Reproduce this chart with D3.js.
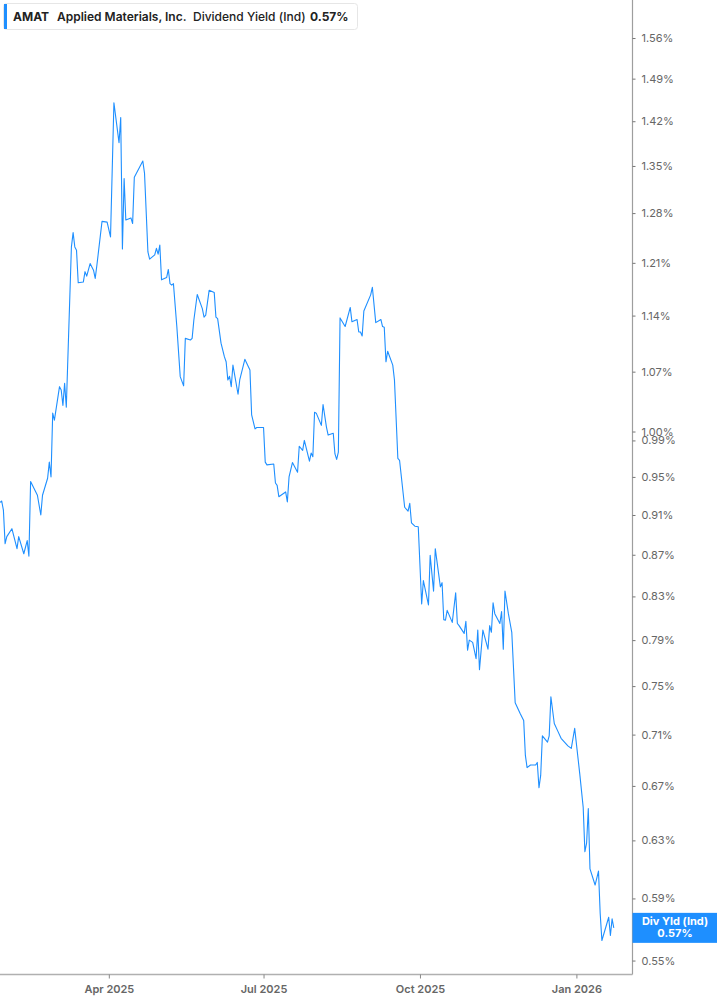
<!DOCTYPE html>
<html>
<head>
<meta charset="utf-8">
<script src="https://cdn.jsdelivr.net/npm/d3@7/dist/d3.min.js"></script>
<style>
  html, body { margin: 0; padding: 0; background: #fff; }
  svg { display: block; }
</style>
</head>
<body>
<svg id="chart" width="717" height="1005"></svg>
<script>
// ---- data ----
const dates = [
  "2025-01-27","2025-01-28","2025-01-29","2025-01-30","2025-01-31","2025-02-03","2025-02-06","2025-02-07",
  "2025-02-10","2025-02-12","2025-02-13","2025-02-14","2025-02-18","2025-02-20","2025-02-21","2025-02-24",
  "2025-02-25","2025-02-26","2025-02-27","2025-02-28","2025-03-03","2025-03-04","2025-03-05","2025-03-06",
  "2025-03-07","2025-03-10","2025-03-11","2025-03-12","2025-03-13","2025-03-14","2025-03-17","2025-03-18",
  "2025-03-19","2025-03-21","2025-03-23","2025-03-24","2025-03-25","2025-03-28","2025-03-31","2025-04-02",
  "2025-04-04","2025-04-07","2025-04-08","2025-04-09","2025-04-10","2025-04-11","2025-04-14","2025-04-15",
  "2025-04-16","2025-04-21","2025-04-22","2025-04-24","2025-04-25","2025-04-28","2025-04-29","2025-04-30",
  "2025-05-01","2025-05-02","2025-05-05","2025-05-06","2025-05-07","2025-05-08","2025-05-09","2025-05-11",
  "2025-05-13","2025-05-15","2025-05-16","2025-05-19","2025-05-20","2025-05-21","2025-05-23","2025-05-26",
  "2025-05-27","2025-05-28","2025-05-30","2025-06-02","2025-06-03","2025-06-04","2025-06-06","2025-06-08",
  "2025-06-09","2025-06-10","2025-06-11","2025-06-12","2025-06-13","2025-06-16","2025-06-17","2025-06-20",
  "2025-06-23","2025-06-24","2025-06-26","2025-06-27","2025-07-01","2025-07-02","2025-07-03","2025-07-07",
  "2025-07-08","2025-07-09","2025-07-10","2025-07-14","2025-07-15","2025-07-16","2025-07-18","2025-07-21",
  "2025-07-22","2025-07-24","2025-07-25","2025-07-28","2025-07-29","2025-07-30","2025-07-31","2025-08-01",
  "2025-08-04","2025-08-05","2025-08-07","2025-08-08","2025-08-11","2025-08-12","2025-08-13","2025-08-14",
  "2025-08-15","2025-08-18","2025-08-21","2025-08-22","2025-08-25","2025-08-26","2025-08-27","2025-08-28",
  "2025-08-29","2025-09-02","2025-09-03","2025-09-05","2025-09-08","2025-09-09","2025-09-10","2025-09-11",
  "2025-09-12","2025-09-15","2025-09-16","2025-09-18","2025-09-19","2025-09-22","2025-09-24","2025-09-25",
  "2025-09-26","2025-09-28","2025-09-30","2025-10-02","2025-10-03","2025-10-06","2025-10-07","2025-10-09",
  "2025-10-10","2025-10-13","2025-10-14","2025-10-15","2025-10-16","2025-10-17","2025-10-20","2025-10-22",
  "2025-10-23","2025-10-24","2025-10-27","2025-10-28","2025-10-29","2025-10-30","2025-11-01","2025-11-03",
  "2025-11-04","2025-11-05","2025-11-07","2025-11-10","2025-11-11","2025-11-12","2025-11-13","2025-11-14",
  "2025-11-17","2025-11-18","2025-11-19","2025-11-20","2025-11-22","2025-11-24","2025-11-26","2025-11-29",
  "2025-12-01","2025-12-02","2025-12-03","2025-12-05","2025-12-08","2025-12-09","2025-12-10","2025-12-11",
  "2025-12-12","2025-12-15","2025-12-16","2025-12-17","2025-12-19","2025-12-21","2025-12-23","2025-12-27",
  "2025-12-29","2025-12-31","2026-01-03","2026-01-05","2026-01-06","2026-01-07","2026-01-08","2026-01-09",
  "2026-01-12","2026-01-14","2026-01-15","2026-01-16","2026-01-20","2026-01-21","2026-01-22","2026-01-23"
];
const yieldPct = [
  0.923,0.9245,0.915,0.881,0.888,0.896,0.876,0.888,
  0.871,0.884,0.8685,0.945,0.9305,0.910,0.9305,0.9486,
  0.966,0.950,1.021,1.013,1.052,1.048,1.030,1.056,
  1.028,1.232,1.252,1.232,1.2275,1.183,1.184,1.198,
  1.192,1.209,1.200,1.189,1.207,1.268,1.267,1.246,
  1.450,1.386,1.426,1.229,1.331,1.270,1.273,1.265,
  1.333,1.3575,1.339,1.225,1.215,1.221,1.230,1.222,
  1.2345,1.187,1.190,1.201,1.182,1.180,1.182,1.126,
  1.064,1.053,1.111,1.109,1.111,1.134,1.1675,1.149,
  1.138,1.1405,1.173,1.170,1.138,1.136,1.105,1.088,
  1.082,1.060,1.0645,1.052,1.078,1.043,1.060,1.085,
  1.072,1.019,1.003,1.0045,1.0045,0.966,0.963,0.964,
  0.9435,0.941,0.929,0.934,0.9235,0.950,0.9655,0.955,
  0.9835,0.979,0.990,0.967,0.976,0.972,1.022,1.021,
  1.007,1.031,1.005,0.996,0.998,0.975,0.969,0.977,
  1.137,1.126,1.1505,1.132,1.135,1.119,1.119,1.114,
  1.146,1.167,1.177,1.131,1.135,1.126,1.125,1.082,
  1.095,1.078,1.060,0.970,0.968,0.918,0.914,0.922,
  0.902,0.8985,0.898,0.823,0.845,0.822,0.8695,0.835,
  0.876,0.839,0.843,0.8085,0.808,0.817,0.806,0.8335,
  0.805,0.803,0.796,0.807,0.781,0.790,0.788,0.7736,
  0.799,0.764,0.799,0.782,0.803,0.797,0.824,0.814,
  0.805,0.816,0.782,0.835,0.814,0.797,0.736,0.727,
  0.7215,0.6935,0.684,0.686,0.686,0.688,0.6686,0.678,
  0.709,0.704,0.709,0.741,0.719,0.713,0.707,0.701,
  0.699,0.715,0.679,0.654,0.622,0.628,0.653,0.610,
  0.599,0.6085,0.580,0.5626,0.5776,0.5658,0.5765,0.5707
];
const yTickValues = [0.55,0.59,0.63,0.67,0.71,0.75,0.79,0.83,0.87,0.91,0.95,0.99,1.00,1.07,1.14,1.21,1.28,1.35,1.42,1.49,1.56];
const xTickDates = ["2025-04-01","2025-07-01","2025-10-01","2026-01-01"];
const xDomain = ["2025-01-27","2026-02-03"];
const yDomain = [0.5414, 1.6285];
const ticker = "AMAT";
const company = "Applied Materials, Inc.";
const metric = "Dividend Yield (Ind)";
const lastLabel = "Div Yld (Ind)";

// ---- chart ----
const parse = d3.timeParse("%Y-%m-%d");
const data = dates.map((d, i) => ({ date: parse(d), v: yieldPct[i] }));
const blue = "#1e8fff";
const svg = d3.select("#chart");
const plotRight = 632.5, plotBottom = 974.5;

const x = d3.scaleTime().domain(xDomain.map(parse)).range([0, plotRight]);
const y = d3.scaleLog().domain(yDomain).range([plotBottom, 0]);

// line
const line = d3.line().x(d => x(d.date)).y(d => y(d.v));
svg.append("path")
  .datum(data)
  .attr("fill", "none")
  .attr("stroke", blue)
  .attr("stroke-width", 1.1)
  .attr("stroke-linejoin", "round")
  .attr("d", line);

// right axis
const yAxis = d3.axisRight(y)
  .tickValues(yTickValues)
  .tickSize(3)
  .tickPadding(6)
  .tickFormat(d => d.toFixed(2) + "%");
const gy = svg.append("g").attr("transform", `translate(${plotRight},0)`).call(yAxis);
gy.select(".domain").attr("stroke", "#9e9e9e").attr("stroke-width", 1.2)
  .attr("d", `M0,0V${plotBottom}`);
gy.selectAll(".tick line").attr("stroke", "#777");
gy.selectAll(".tick text")
  .attr("fill", "#666")
  .attr("font-family", "Inter, 'Noto Sans', sans-serif")
  .attr("font-size", 11);

// bottom axis
const xAxis = d3.axisBottom(x)
  .tickValues(xTickDates.map(parse))
  .tickSize(4)
  .tickPadding(7)
  .tickFormat(d3.timeFormat("%b %Y"));
const gx = svg.append("g").attr("transform", `translate(0,${plotBottom})`).call(xAxis);
gx.select(".domain").attr("stroke", "#b0b0b0").attr("stroke-width", 1.6)
  .attr("d", `M0,0H${plotRight}`);
gx.selectAll(".tick line").attr("stroke", "#888");
gx.selectAll(".tick text")
  .attr("fill", "#666")
  .attr("font-family", "Inter, 'Noto Sans', sans-serif")
  .attr("font-weight", 600)
  .attr("font-size", 11);

// last value label
const last = data[data.length - 1];
const ly = y(last.v);
const lbl = svg.append("g");
lbl.append("rect")
  .attr("x", plotRight).attr("y", ly - 15)
  .attr("width", 717 - plotRight).attr("height", 30)
  .attr("fill", blue);
lbl.append("text")
  .attr("x", 675).attr("y", ly - 2.5)
  .attr("text-anchor", "middle")
  .attr("fill", "#fff")
  .attr("font-family", "Inter, 'Noto Sans', sans-serif")
  .attr("font-weight", 700).attr("font-size", 11)
  .text(lastLabel);
lbl.append("text")
  .attr("x", 675).attr("y", ly + 9.5)
  .attr("text-anchor", "middle")
  .attr("fill", "#fff")
  .attr("font-family", "Inter, 'Noto Sans', sans-serif")
  .attr("font-weight", 700).attr("font-size", 11)
  .text(last.v.toFixed(2) + "%");

// legend
const lg = svg.append("g");
lg.append("rect")
  .attr("x", 3.5).attr("y", 3.5).attr("width", 354).attr("height", 26)
  .attr("rx", 3).attr("fill", "#fff").attr("stroke", "#e6e6e6");
lg.append("rect")
  .attr("x", 4).attr("y", 4).attr("width", 3).attr("height", 25)
  .attr("fill", blue);
const legendParts = [
  { t: ticker, x: 13, w: 700 },
  { t: company, x: 57, w: 600 },
  { t: metric, x: 193, w: 500 },
  { t: last.v.toFixed(2) + "%", x: 310, w: 700 }
];
lg.selectAll("text.lg").data(legendParts).join("text")
  .attr("class", "lg")
  .attr("x", d => d.x).attr("y", 21)
  .attr("fill", "#222")
  .attr("font-family", "Inter, 'Noto Sans', sans-serif")
  .attr("font-size", 12)
  .attr("font-weight", d => d.w)
  .text(d => d.t);
</script>
</body>
</html>
